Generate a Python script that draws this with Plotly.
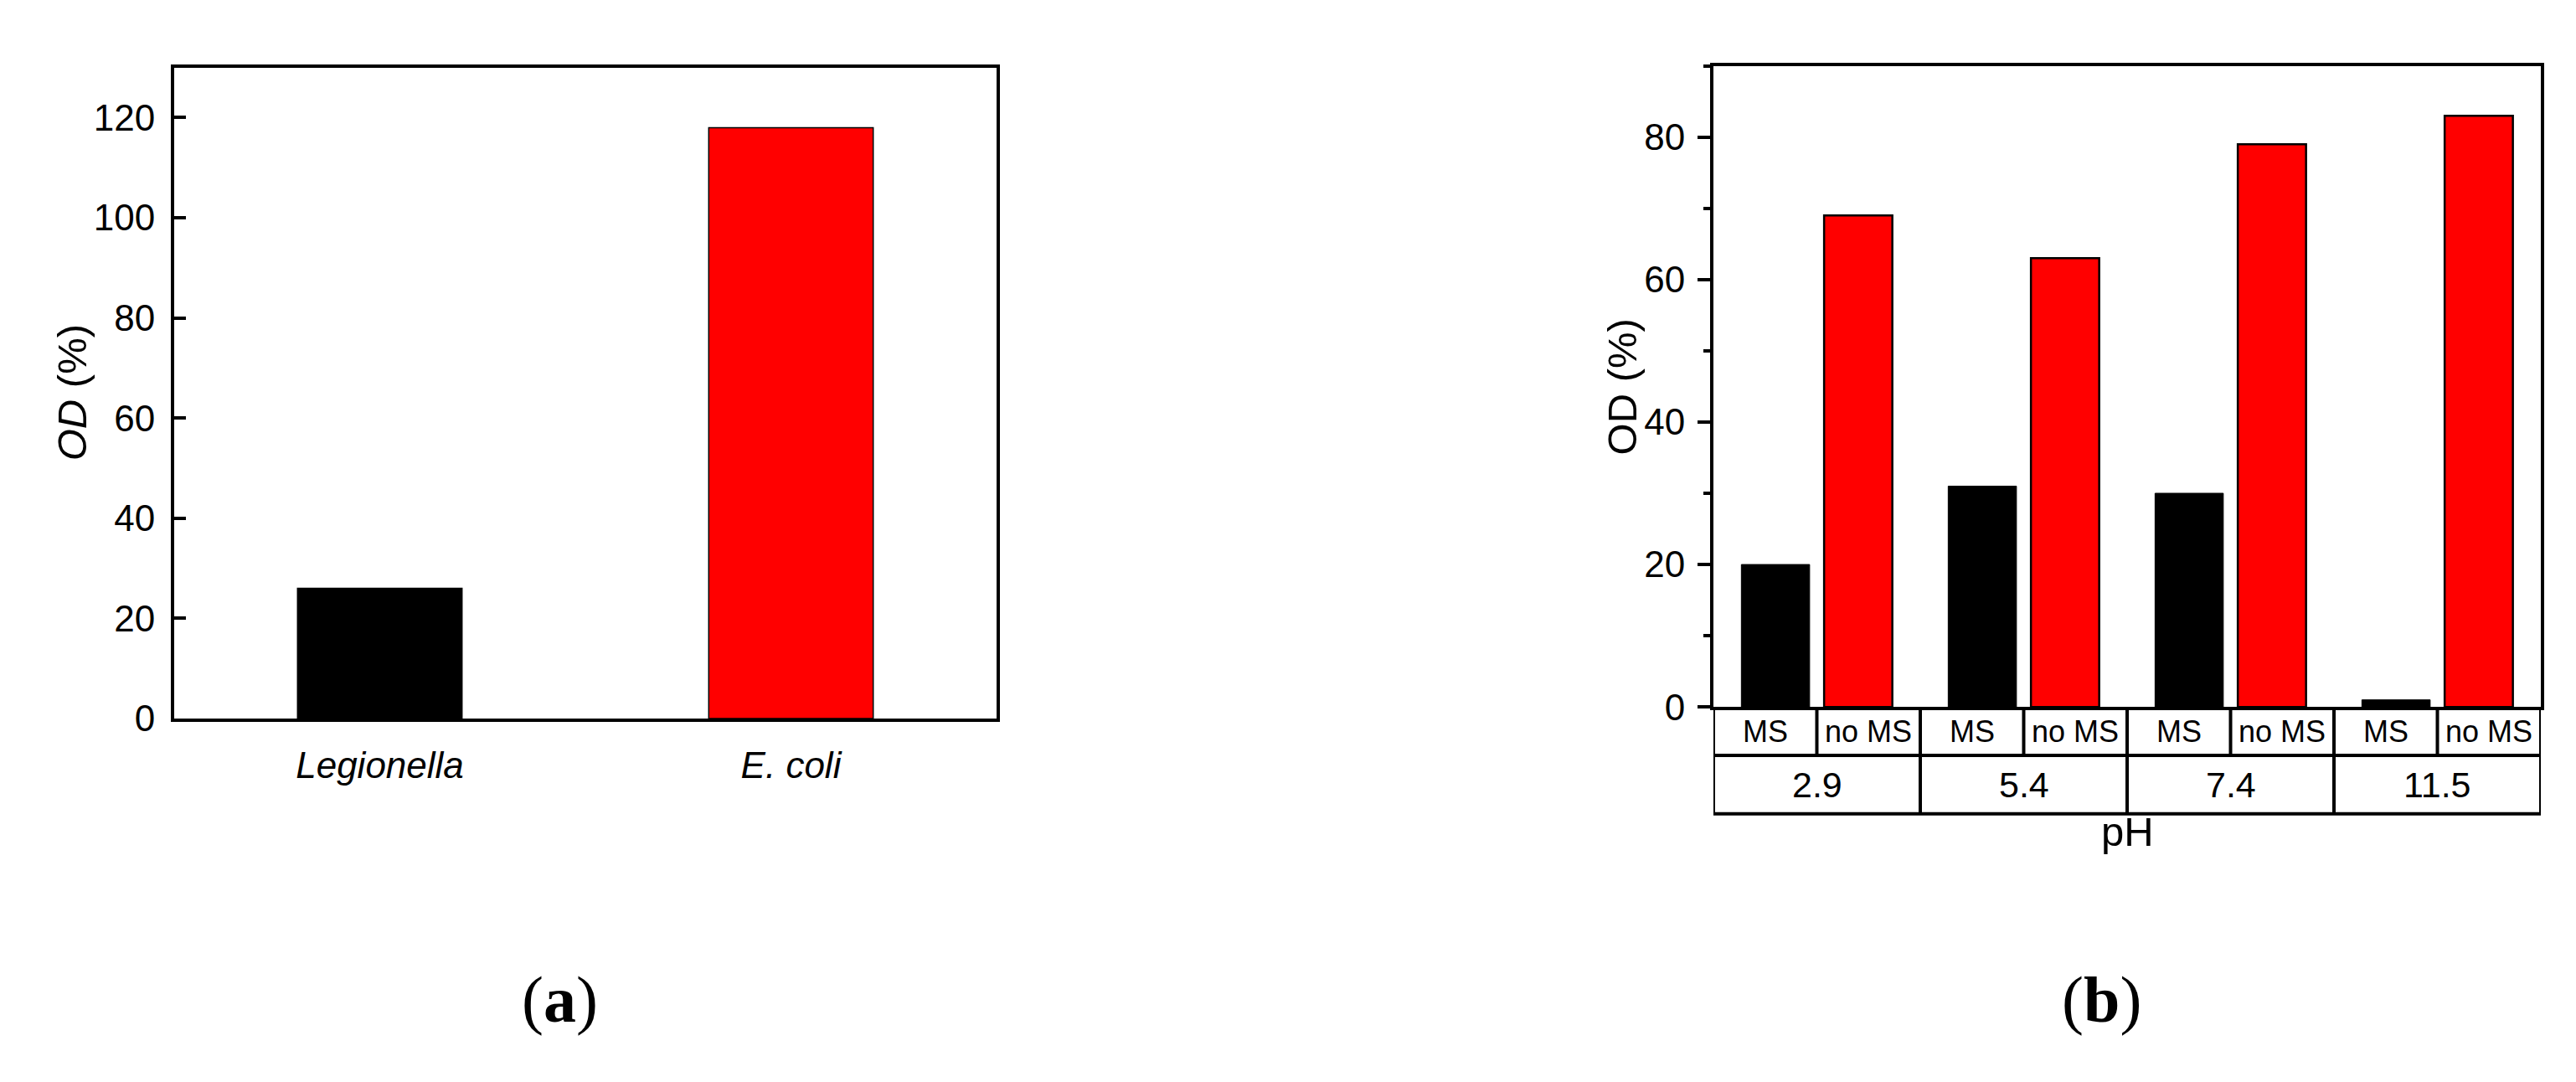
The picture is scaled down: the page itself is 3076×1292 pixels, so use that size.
import plotly.graph_objects as go

W, H = 3076, 1292

# panel (a)
bacteria = ["Legionella", "E. coli"]
od_bacteria = [26, 118]
bacteria_colors = ["black", "red"]

# panel (b)
ph_values = ["2.9", "5.4", "7.4", "11.5"]
od_ms = [20, 31, 30, 1]
od_no_ms = [69, 63, 79, 83]
sub_labels = ["MS", "no MS"]


def px(x):
    return x / W


def py(y):
    return 1 - y / H


font_main = "Liberation Sans, Arial, sans-serif"

fig = go.Figure()

fig.add_trace(go.Bar(
    x=bacteria, y=od_bacteria, width=0.4,
    marker=dict(color=bacteria_colors, line=dict(color="black", width=1.5)),
    xaxis="x", yaxis="y", showlegend=False,
))

fig.add_trace(go.Bar(
    x=ph_values, y=od_ms, name="MS",
    marker=dict(color="black", line=dict(color="black", width=1)),
    xaxis="x2", yaxis="y2", showlegend=False,
))
fig.add_trace(go.Bar(
    x=ph_values, y=od_no_ms, name="no MS",
    marker=dict(color="red", line=dict(color="black", width=2.5)),
    xaxis="x2", yaxis="y2", showlegend=False,
))

axis_common = dict(showline=True, linecolor="black", linewidth=4, mirror=True,
                   showgrid=False, zeroline=False,
                   tickfont=dict(family=font_main, size=44, color="black"))

fig.update_layout(
    width=W, height=H,
    margin=dict(l=0, r=0, t=0, b=0),
    paper_bgcolor="white", plot_bgcolor="white",
    barmode="group", bargap=0.2, bargroupgap=0.175,
    xaxis=dict(domain=[px(200), px(1182)], type="category", range=[-0.5, 1.5],
               ticks="", ticklabelstandoff=14,
               **{**axis_common, "tickfont": dict(family=font_main, size=44, color="black", style="italic")}),
    yaxis=dict(domain=[py(866), py(74)], range=[0, 130], dtick=20,
               ticks="inside", ticklen=14, tickwidth=4, tickcolor="black",
               ticklabelstandoff=10, **axis_common),
    xaxis2=dict(domain=[px(2038), px(3026)], type="category", range=[-0.5, 3.5],
                ticks="", showticklabels=False, anchor="y2", **axis_common),
    yaxis2=dict(domain=[py(852), py(72)], range=[0, 90], dtick=20, anchor="x2",
                ticks="outside", ticklen=15, tickwidth=4, tickcolor="black",
                minor=dict(dtick=10, ticks="outside", ticklen=8, tickwidth=4, tickcolor="black"),
                ticklabelstandoff=6, **axis_common),
)

# table under panel (b)
plot_h = 852 - 72
row1 = -(911 - 852) / plot_h
row2 = -(982 - 852) / plot_h
line = dict(color="black", width=4)
n = len(ph_values)
fig.add_shape(type="line", xref="x2", yref="y2 domain", x0=-0.5, x1=n - 0.5, y0=row1, y1=row1, line=line)
fig.add_shape(type="line", xref="x2", yref="y2 domain", x0=-0.5, x1=n - 0.5, y0=row2, y1=row2, line=line)
for i in range(n + 1):
    fig.add_shape(type="line", xref="x2", yref="y2 domain", x0=i - 0.5, x1=i - 0.5, y0=0, y1=row2, line=line)
for i in range(n):
    fig.add_shape(type="line", xref="x2", yref="y2 domain", x0=i, x1=i, y0=0, y1=row1, line=line)
    for k, lab in enumerate(sub_labels):
        fig.add_annotation(text=lab, xref="x2", yref="y2 domain", x=i - 0.25 + 0.5 * k, y=row1 / 2,
                           showarrow=False, xanchor="center", yanchor="middle",
                           font=dict(family=font_main, size=36, color="black"))
    fig.add_annotation(text=ph_values[i], xref="x2", yref="y2 domain", x=i, y=(row1 + row2) / 2,
                       showarrow=False, xanchor="center", yanchor="middle",
                       font=dict(family=font_main, size=43, color="black"))

fig.add_annotation(text="pH", xref="paper", yref="paper", x=px(2532), y=py(1004),
                   showarrow=False, xanchor="center", yanchor="middle",
                   font=dict(family=font_main, size=49, color="black"))

# axis titles
fig.add_annotation(text="<i>OD</i> (%)", xref="paper", yref="paper", x=px(78), y=py(470),
                   textangle=-90, showarrow=False, xanchor="center", yanchor="middle",
                   font=dict(family=font_main, size=49, color="black"))
fig.add_annotation(text="OD (%)", xref="paper", yref="paper", x=px(1929), y=py(463),
                   textangle=-90, showarrow=False, xanchor="center", yanchor="middle",
                   font=dict(family=font_main, size=49, color="black"))

# panel letters
for letter, xc in [("a", 660), ("b", 2501)]:
    fig.add_annotation(text="(<b>%s</b>)" % letter, xref="paper", yref="paper", x=px(xc), y=py(1208),
                       showarrow=False, xanchor="center", yanchor="middle",
                       font=dict(family="Liberation Serif, Times New Roman, serif", size=78, color="black"))

fig.write_html("out.html")
